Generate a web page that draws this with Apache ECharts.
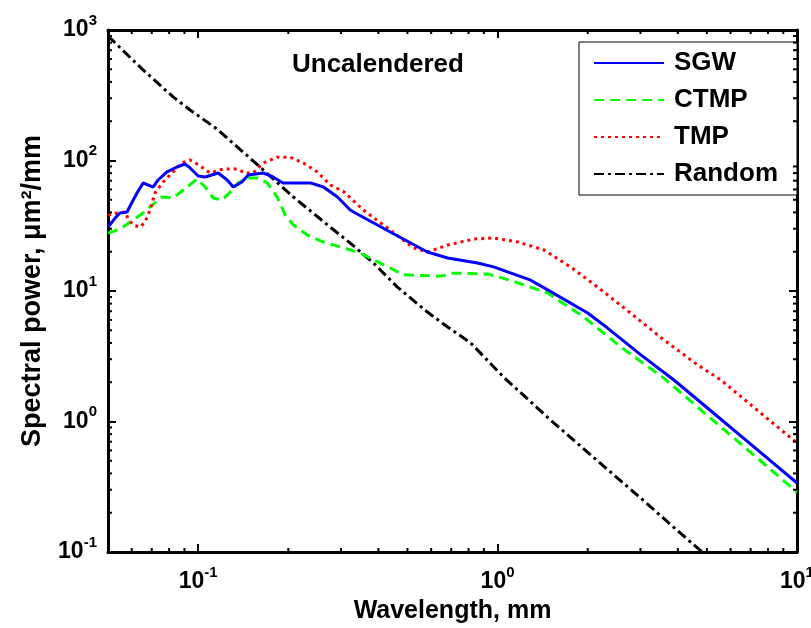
<!DOCTYPE html>
<html>
<head>
<meta charset="utf-8">
<script src="https://cdn.jsdelivr.net/npm/echarts@6/dist/echarts.min.js"></script>
<style>html,body{margin:0;padding:0;background:#fff;}#c{width:811px;height:628px;}</style>
</head>
<body>
<div id="c"></div>
<script>
// ---- data ----
const sgwX = [0.05,0.0528,0.0548,0.0579,0.0602,0.0625,0.0655,0.068,0.0707,0.0735,0.0787,0.085,0.0904,0.094,0.1,0.1055,0.1167,0.125,0.131,0.14,0.147,0.165,0.178,0.192,0.214,0.237,0.262,0.292,0.322,0.335,0.438,0.583,0.681,0.857,0.97,1.29,1.47,2.0,2.33,3.01,3.88,5,7,10];
const sgwY = [30.9,36.2,39.6,40.3,48.1,56.4,67.3,64.9,62.6,70.9,81.7,89.2,94,87.7,76.1,74.8,80.2,70.9,62.6,68.4,77.4,80.2,74.8,67.3,67.3,67.3,62.6,52.5,41.8,39.6,28.3,19.9,17.9,16.4,15.3,12.1,10.2,6.78,5.2,3.24,2.08,1.28,0.67,0.338];

const ctmpX = [0.05,0.0536,0.0561,0.0606,0.0655,0.0691,0.0758,0.0825,0.0891,0.0992,0.1055,0.1122,0.1203,0.128,0.136,0.147,0.1575,0.17,0.1836,0.1954,0.208,0.2315,0.262,0.3055,0.348,0.438,0.485,0.644,0.713,0.927,1.1,1.47,1.94,2.58,3.59,5,7,10];
const ctmpY = [27.8,29.3,30.9,35.0,39.6,44.1,52.5,51.6,59.4,72.1,62.6,51.6,49.8,57.4,67.3,73.5,73.5,67.3,52.5,38.2,32.0,26.9,23.7,21.4,19.5,15.0,13.3,13.0,13.7,13.5,12.1,9.66,6.32,3.72,2.15,1.12,0.58,0.288];

const tmpX = [0.05,0.0536,0.057,0.0583,0.0606,0.064,0.0665,0.0691,0.0718,0.0764,0.0825,0.0884,0.094,0.1016,0.1096,0.1212,0.135,0.1436,0.1527,0.165,0.1836,0.203,0.2244,0.25,0.276,0.3055,0.356,0.438,0.524,0.583,0.681,0.832,0.97,1.17,1.43,1.75,2.16,2.78,3.59,4.66,5.57,7.5,10];
const tmpY = [38.2,39.6,40.3,36.2,32.0,30.9,33.8,41.8,56.4,68.4,81.7,95.7,101,90.8,80.2,86.1,86.1,80.2,80.2,95.7,106,106,95.7,81.7,65,58,41.8,29.3,21.4,19.9,22.5,25.0,25.5,23.7,20.6,15.3,10.7,6.78,4.22,2.71,2.08,1.18,0.684];

const randomX = [0.05,0.0655,0.0825,0.094,0.1157,0.161,0.208,0.276,0.322,0.385,0.463,0.583,0.681,0.813,1.047,1.5,2,3,4,5];
const randomY = [900,494,307,244,174,89,52.5,30.9,23.3,16.4,10.7,6.9,5.3,4.0,2.19,1.03,0.58,0.26,0.145,0.093];

const seriesNames = ['SGW','CTMP','TMP','Random'];
const titleText = 'Uncalendered';
const xName = 'Wavelength, mm';
const yName = 'Spectral power, \u03bcm\u00b2/mm';
const xRange = [0.05, 10];
const yRange = [0.1, 1000];
const xMinorTicks = [0.06,0.07,0.08,0.09,0.2,0.3,0.4,0.5,0.6,0.7,0.8,0.9,2,3,4,5,6,7,8,9];
const yMinorTicks = [0.2,0.3,0.4,0.5,0.6,0.7,0.8,0.9,2,3,4,5,6,7,8,9,20,30,40,50,60,70,80,90,200,300,400,500,600,700,800,900];

// ---- helpers ----
const FONT = 'Liberation Sans, Arial, sans-serif';
const zip = (xs, ys) => xs.map((x, i) => [x, ys[i]]);
const powLabel = v => '{b|10}{s|' + Math.round(Math.log10(v)) + '}';
const labelRich = {
  b: {fontSize: 23, fontWeight: 'bold', fontFamily: FONT, color: '#000', lineHeight: 34},
  s: {fontSize: 15, fontWeight: 'bold', fontFamily: FONT, color: '#000', lineHeight: 15, verticalAlign: 'top'}
};
const tickData = xMinorTicks.map(v => [v, yRange[0], 0]).concat(yMinorTicks.map(v => [xRange[0], v, 1]));

const chart = echarts.init(document.getElementById('c'), null, {renderer: 'canvas'});
const axisLine = {show: true, onZero: false, lineStyle: {color: '#000', width: 3}};
const majorTick = {show: true, inside: true, length: 8, lineStyle: {color: '#000', width: 2}};

chart.setOption({
  backgroundColor: '#fff',
  animation: false,
  title: {
    text: titleText, left: 292, top: 52, padding: 0,
    textStyle: {fontSize: 26, fontWeight: 'bold', fontFamily: FONT, color: '#000'}
  },
  legend: {
    data: seriesNames, orient: 'vertical', left: 579, top: 42,
    padding: [8, 19, 8, 14], itemGap: 11, itemWidth: 70, itemHeight: 14,
    borderColor: '#000', borderWidth: 1, backgroundColor: '#fff',
    itemStyle: {opacity: 0, color: 'rgba(0,0,0,0)', borderWidth: 0},
    textStyle: {fontSize: 26, fontWeight: 'bold', fontFamily: FONT, color: '#000', padding: [0, 0, 0, 5]}
  },
  grid: {left: 108, right: 14, top: 30, bottom: 76, containLabel: false, outerBoundsMode: 'none'},
  xAxis: [{
    type: 'log', logBase: 10, min: xRange[0], max: xRange[1], splitNumber: 3,
    name: xName, nameLocation: 'middle', nameGap: 45,
    nameTextStyle: {fontSize: 25, fontWeight: 'bold', fontFamily: FONT, color: '#000'},
    axisLine: axisLine, axisTick: majorTick, splitLine: {show: false},
    axisLabel: {margin: 13, showMinLabel: false, formatter: powLabel, rich: labelRich}
  }, {
    type: 'log', logBase: 10, min: xRange[0], max: xRange[1], splitNumber: 3, position: 'top',
    axisLine: axisLine, axisTick: majorTick, splitLine: {show: false}, axisLabel: {show: false}
  }],
  yAxis: [{
    type: 'log', logBase: 10, min: yRange[0], max: yRange[1], interval: 1,
    name: yName, nameLocation: 'middle', nameGap: 62,
    nameTextStyle: {fontSize: 27, fontWeight: 'bold', fontFamily: FONT, color: '#000'},
    axisLine: axisLine, axisTick: majorTick, splitLine: {show: false},
    axisLabel: {margin: 11, formatter: powLabel, rich: labelRich}
  }, {
    type: 'log', logBase: 10, min: yRange[0], max: yRange[1], interval: 1, position: 'right',
    axisLine: axisLine, axisTick: majorTick, splitLine: {show: false}, axisLabel: {show: false}
  }],
  series: [
    {name: seriesNames[0], type: 'line', data: zip(sgwX, sgwY), showSymbol: false, symbol: 'none',
     lineStyle: {color: '#0000ff', width: 3, type: 'solid'}, itemStyle: {color: '#0000ff'}, z: 5},
    {name: seriesNames[1], type: 'line', data: zip(ctmpX, ctmpY), showSymbol: false, symbol: 'none',
     lineStyle: {color: '#00ff00', width: 3, type: [10, 6]}, itemStyle: {color: '#00ff00'}, z: 4},
    {name: seriesNames[2], type: 'line', data: zip(tmpX, tmpY), showSymbol: false, symbol: 'none',
     lineStyle: {color: '#ff0000', width: 3, type: [3, 4]}, itemStyle: {color: '#ff0000'}, z: 4},
    {name: seriesNames[3], type: 'line', data: zip(randomX, randomY), showSymbol: false, symbol: 'none',
     lineStyle: {color: '#000000', width: 3, type: [10, 4, 3, 4]}, itemStyle: {color: '#000000'}, z: 3},
    {name: 'minorTicks', type: 'custom', silent: true, clip: false, z: 10,
     encode: {x: 0, y: 1}, data: tickData,
     renderItem: function (params, api) {
       const kind = api.value(2);
       const v = kind === 0 ? api.value(0) : api.value(1);
       const L = 4;
       let a, b;
       if (kind === 0) {
         a = api.coord([v, yRange[0]]); b = api.coord([v, yRange[1]]);
         return {type: 'group', children: [
           {type: 'line', shape: {x1: a[0], y1: a[1], x2: a[0], y2: a[1] - L}, style: {stroke: '#000', lineWidth: 2}},
           {type: 'line', shape: {x1: b[0], y1: b[1], x2: b[0], y2: b[1] + L}, style: {stroke: '#000', lineWidth: 2}}
         ]};
       }
       a = api.coord([xRange[0], v]); b = api.coord([xRange[1], v]);
       return {type: 'group', children: [
         {type: 'line', shape: {x1: a[0], y1: a[1], x2: a[0] + L, y2: a[1]}, style: {stroke: '#000', lineWidth: 2}},
         {type: 'line', shape: {x1: b[0], y1: b[1], x2: b[0] - L, y2: b[1]}, style: {stroke: '#000', lineWidth: 2}}
       ]};
     }}
  ]
});
</script>
</body>
</html>
